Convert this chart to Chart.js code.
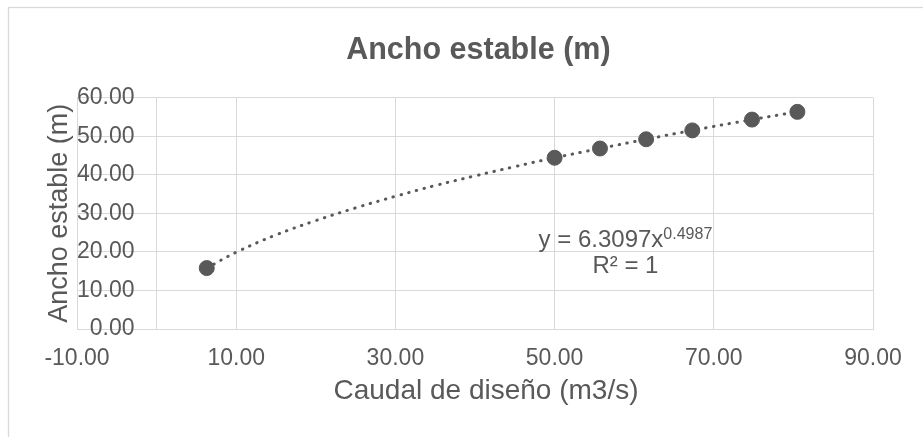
<!DOCTYPE html>
<html>
<head>
<meta charset="utf-8">
<script src="https://cdn.jsdelivr.net/npm/chart.js@4"></script>
<style>
  html, body { margin: 0; padding: 0; background: #fff; }
  #wrap { width: 923px; height: 437px; }
</style>
</head>
<body>
<div id="wrap"><canvas id="anchoChart" width="923" height="437"></canvas></div>
<script>
// Caudal de diseño (m3/s) vs ancho estable (m)
const caudal = [6.3, 50.0, 55.7, 61.5, 67.3, 74.8, 80.5];
const ancho = [15.8, 44.4, 46.8, 49.2, 51.5, 54.3, 56.3];

// puntos leídos sobre la línea de tendencia (punteada)
const trendCaudal = [6.3, 10, 15, 20, 25, 30, 35, 40, 45, 50, 55.7, 61.5, 67.3, 74.8, 80.5];
const trendAncho = [15.8, 19.9, 24.4, 28.1, 31.4, 34.4, 37.2, 39.7, 42.1, 44.4, 46.8, 49.2, 51.5, 54.3, 56.3];

const xTicks = [-10, 0, 10, 30, 50, 70, 90];
const yTicks = [0, 10, 20, 30, 40, 50, 60];

const xTitle = 'Caudal de diseño (m3/s)';
const eqText = 'y = 6.3097x';
const eqExp = '0.4987';
const r2Text = 'R² = 1';

const gray = '#595959';
const gridGray = '#d9d9d9';
const font = '"Liberation Sans", Arial, sans-serif';

document.addEventListener('DOMContentLoaded', () => {
    const canvas = document.getElementById('anchoChart');
    const ctx = canvas.getContext('2d');

    new Chart(ctx, {
        type: 'scatter',
        data: {
            datasets: [
                {
                    label: 'Ancho estable',
                    data: caudal.map((q, i) => ({ x: q, y: ancho[i] })),
                    backgroundColor: gray,
                    borderColor: gray,
                    pointRadius: 7.5,
                    pointHoverRadius: 7.5,
                    showLine: false,
                },
                {
                    label: 'Tendencia',
                    data: trendCaudal.map((q, i) => ({ x: q, y: trendAncho[i] })),
                    showLine: true,
                    borderColor: gray,
                    borderWidth: 3,
                    borderDash: [0.5, 7.5],
                    borderCapStyle: 'round',
                    tension: 0.4,
                    pointRadius: 0,
                    pointHoverRadius: 0,
                },
            ]
        },
        options: {
            responsive: false,
            animation: false,
            layout: {
                padding: { top: 0, right: 50, bottom: 48.4, left: 43.8 }
            },
            scales: {
                x: {
                    type: 'linear',
                    min: -10,
                    max: 90,
                    afterBuildTicks: (scale) => {
                        scale.ticks = xTicks.map(v => ({ value: v }));
                    },
                    grid: { color: gridGray, lineWidth: 1, drawTicks: false },
                    border: { color: gridGray },
                    ticks: {
                        color: gray,
                        padding: 16,
                        font: { family: font, size: 23 },
                        callback: (v) => v === 0 ? '' : v.toFixed(2),
                    },
                    title: { display: false }
                },
                y: {
                    type: 'linear',
                    min: 0,
                    max: 60,
                    afterBuildTicks: (scale) => {
                        scale.ticks = yTicks.map(v => ({ value: v }));
                    },
                    grid: { color: gridGray, lineWidth: 1, drawTicks: false },
                    border: { color: gridGray },
                    ticks: {
                        color: gray,
                        mirror: true,
                        crossAlign: 'far',
                        padding: 0,
                        font: { family: font, size: 23 },
                        callback: (v) => v.toFixed(2),
                    },
                    title: {
                        display: true,
                        text: 'Ancho estable (m)',
                        color: gray,
                        font: { family: font, size: 27 },
                        padding: { top: 0, bottom: 0.8 },
                    }
                }
            },
            plugins: {
                legend: { display: false },
                tooltip: { enabled: false },
                title: {
                    display: true,
                    text: 'Ancho estable (m)',
                    color: gray,
                    font: { family: font, size: 30.5, weight: 'bold' },
                    padding: { top: 32, bottom: 29 },
                }
            }
        },
        plugins: [
            {
                id: 'chartFrame',
                beforeDraw: (chart) => {
                    const c = chart.ctx;
                    c.save();
                    c.fillStyle = '#ffffff';
                    c.fillRect(0, 0, chart.width, chart.height);
                    c.strokeStyle = gridGray;
                    c.lineWidth = 1.3;
                    c.strokeRect(8.5, 7.5, chart.width + 20, chart.height + 20);
                    c.restore();
                }
            },
            {
                id: 'titleShift',
                afterLayout: (chart) => {
                    // el título de Excel está un poco a la derecha del centro del lienzo
                    chart.titleBlock.left += 20;
                    chart.titleBlock.right += 20;
                }
            },
            {
                id: 'textLabels',
                afterDraw: (chart) => {
                    const c = chart.ctx;
                    const { x, y } = chart.scales;
                    c.save();
                    c.fillStyle = gray;

                    // título del eje X
                    c.font = `28px ${font}`;
                    c.textAlign = 'center';
                    c.textBaseline = 'middle';
                    c.fillText(xTitle, (x.left + x.right) / 2 + 11, x.bottom + 2.5);

                    // ecuación de la línea de tendencia
                    const cx = x.getPixelForValue(58.9);
                    const base = y.getPixelForValue(21.3);
                    c.textBaseline = 'alphabetic';
                    c.textAlign = 'left';
                    c.font = `24px ${font}`;
                    const w1 = c.measureText(eqText).width;
                    c.font = `16px ${font}`;
                    const w2 = c.measureText(eqExp).width;
                    const left = cx - (w1 + w2) / 2;
                    c.font = `24px ${font}`;
                    c.fillText(eqText, left, base);
                    c.font = `16px ${font}`;
                    c.fillText(eqExp, left + w1, base - 8);
                    c.font = `24px ${font}`;
                    c.textAlign = 'center';
                    c.fillText(r2Text, cx, base + 26);
                    c.restore();
                }
            }
        ]
    });
});
</script>
</body>
</html>
